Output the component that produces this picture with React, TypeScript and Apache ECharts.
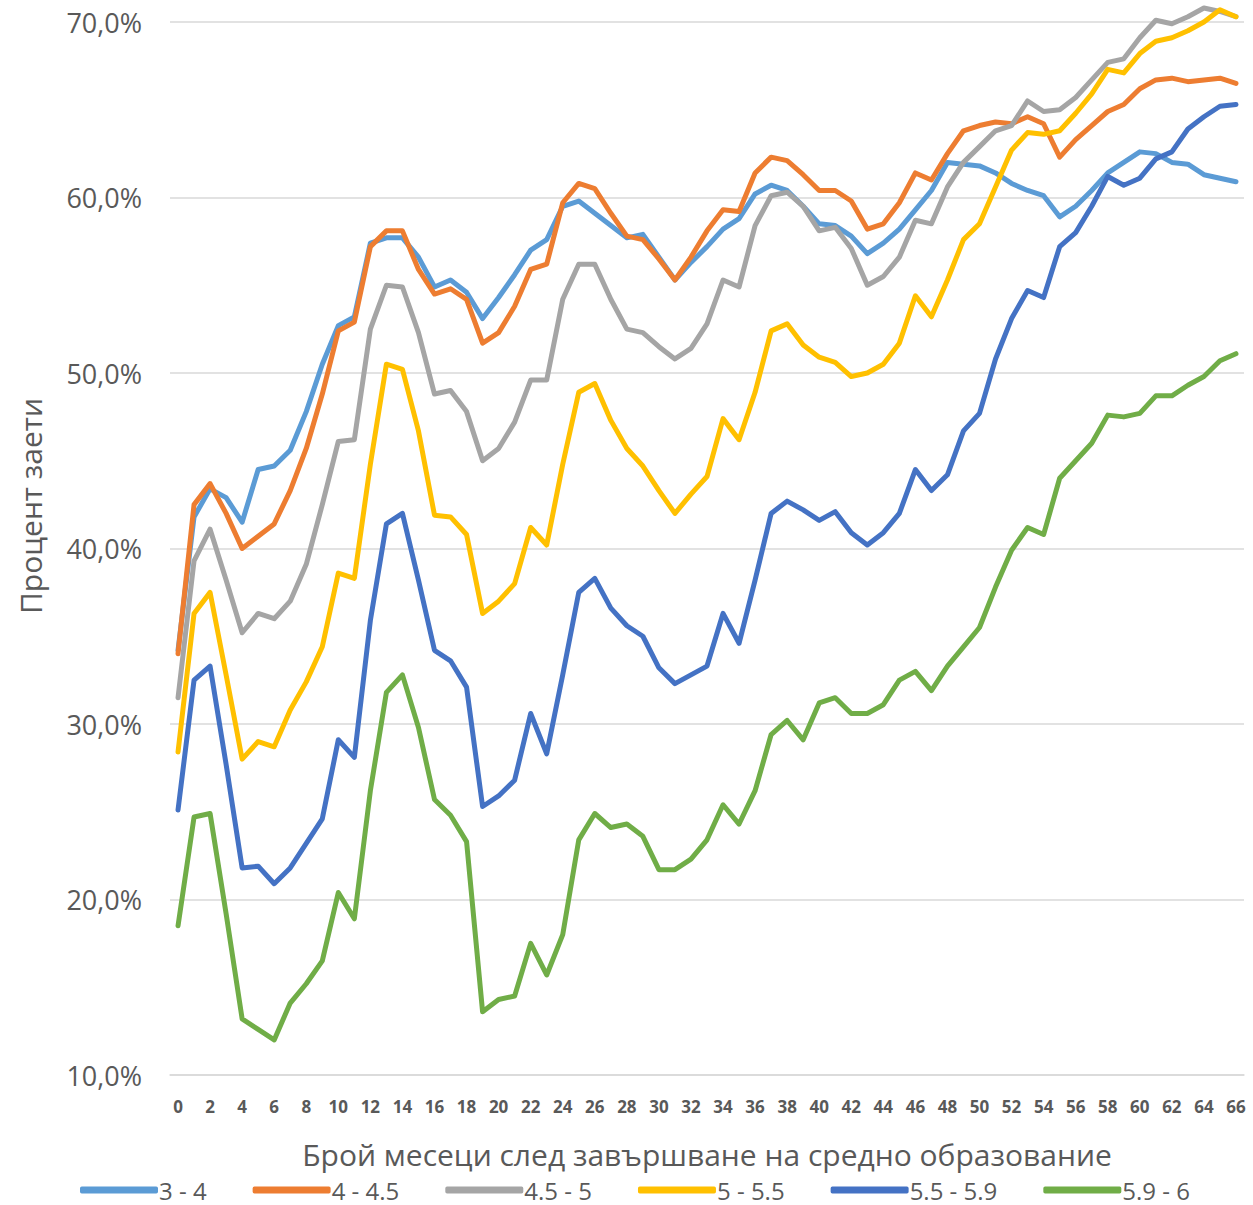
import React, { useEffect, useRef } from "react";
import * as echarts from "echarts";

const months: string[] = Array.from({ length: 67 }, (_, i) => String(i));

const seriesNames = ["3 - 4", "4 - 4.5", "4.5 - 5", "5 - 5.5", "5.5 - 5.9", "5.9 - 6"];
const seriesColors = ["#5B9BD5", "#ED7D31", "#A5A5A5", "#FFC000", "#4472C4", "#70AD47"];

const s34 = [
  34.2, 41.8, 43.4, 42.9, 41.5, 44.5, 44.7, 45.6, 47.8, 50.5, 52.7, 53.2, 57.4, 57.7, 57.7, 56.6, 54.9, 55.3, 54.6, 53.1,
  54.3, 55.6, 57.0, 57.6, 59.5, 59.8, 59.1, 58.4, 57.7, 57.9, 56.6, 55.3, 56.3, 57.2, 58.2, 58.8, 60.2, 60.7, 60.4, 59.5,
  58.5, 58.4, 57.8, 56.8, 57.4, 58.2, 59.3, 60.4, 62.0, 61.9, 61.8, 61.4, 60.8, 60.4, 60.1, 58.9, 59.5, 60.4, 61.4, 62.0,
  62.6, 62.5, 62.0, 61.9, 61.3, 61.1, 60.9,
];
const s445 = [
  34.0, 42.5, 43.7, 42.0, 40.0, 40.7, 41.4, 43.3, 45.7, 48.8, 52.4, 52.9, 57.2, 58.1, 58.1, 55.9, 54.5, 54.8, 54.2, 51.7,
  52.3, 53.8, 55.9, 56.2, 59.7, 60.8, 60.5, 59.1, 57.8, 57.6, 56.5, 55.3, 56.6, 58.1, 59.3, 59.2, 61.4, 62.3, 62.1, 61.3,
  60.4, 60.4, 59.8, 58.2, 58.5, 59.7, 61.4, 61.0, 62.5, 63.8, 64.1, 64.3, 64.2, 64.6, 64.2, 62.3, 63.3, 64.1, 64.9, 65.3,
  66.2, 66.7, 66.8, 66.6, 66.7, 66.8, 66.5,
];
const s455 = [
  31.5, 39.3, 41.1, 38.2, 35.2, 36.3, 36.0, 37.0, 39.1, 42.5, 46.1, 46.2, 52.5, 55.0, 54.9, 52.3, 48.8, 49.0, 47.8, 45.0,
  45.7, 47.2, 49.6, 49.6, 54.2, 56.2, 56.2, 54.2, 52.5, 52.3, 51.5, 50.8, 51.4, 52.8, 55.3, 54.9, 58.4, 60.1, 60.3, 59.5,
  58.1, 58.3, 57.1, 55.0, 55.5, 56.6, 58.7, 58.5, 60.6, 62.0, 62.9, 63.8, 64.1, 65.5, 64.9, 65.0, 65.7, 66.7, 67.7, 67.9,
  69.1, 70.1, 69.9, 70.3, 70.8, 70.6, 70.3,
];
const s555 = [
  28.4, 36.3, 37.5, 32.8, 28.0, 29.0, 28.7, 30.8, 32.4, 34.4, 38.6, 38.3, 44.8, 50.5, 50.2, 46.7, 41.9, 41.8, 40.8, 36.3,
  37.0, 38.0, 41.2, 40.2, 44.8, 48.9, 49.4, 47.3, 45.7, 44.7, 43.3, 42.0, 43.1, 44.1, 47.4, 46.2, 48.9, 52.4, 52.8, 51.6,
  50.9, 50.6, 49.8, 50.0, 50.5, 51.7, 54.4, 53.2, 55.3, 57.6, 58.5, 60.6, 62.7, 63.7, 63.6, 63.8, 64.8, 65.9, 67.3, 67.1,
  68.2, 68.9, 69.1, 69.5, 70.0, 70.7, 70.3,
];
const s559 = [
  25.1, 32.5, 33.3, 27.7, 21.8, 21.9, 20.9, 21.8, 23.2, 24.6, 29.1, 28.1, 35.9, 41.4, 42.0, 38.2, 34.2, 33.6, 32.1, 25.3,
  25.9, 26.8, 30.6, 28.3, 32.8, 37.5, 38.3, 36.6, 35.6, 35.0, 33.2, 32.3, 32.8, 33.3, 36.3, 34.6, 38.2, 42.0, 42.7, 42.2,
  41.6, 42.1, 40.9, 40.2, 40.9, 42.0, 44.5, 43.3, 44.2, 46.7, 47.7, 50.8, 53.1, 54.7, 54.3, 57.2, 58.0, 59.5, 61.2, 60.7,
  61.1, 62.2, 62.6, 63.9, 64.6, 65.2, 65.3,
];
const s596 = [
  18.5, 24.7, 24.9, 19.2, 13.2, 12.6, 12.0, 14.1, 15.2, 16.5, 20.4, 18.9, 26.2, 31.8, 32.8, 29.8, 25.7, 24.8, 23.3, 13.6,
  14.3, 14.5, 17.5, 15.7, 18.0, 23.4, 24.9, 24.1, 24.3, 23.6, 21.7, 21.7, 22.3, 23.4, 25.4, 24.3, 26.2, 29.4, 30.2, 29.1,
  31.2, 31.5, 30.6, 30.6, 31.1, 32.5, 33.0, 31.9, 33.3, 34.4, 35.5, 37.8, 39.9, 41.2, 40.8, 44.0, 45.0, 46.0, 47.6, 47.5,
  47.7, 48.7, 48.7, 49.3, 49.8, 50.7, 51.1,
];
const allSeries = [s34, s445, s455, s555, s559, s596];

const xTitle = "Брой месеци след завършване на средно образование";
const yTitle = "Процент заети";

const FONT = "'Open Sans', 'DejaVu Sans', sans-serif";
const TXT = "#595959";

export default function App() {
  const ref = useRef<HTMLDivElement>(null);
  useEffect(() => {
    if (!ref.current) return;
    const chart = echarts.init(ref.current, undefined, { renderer: "svg" });
    chart.setOption({
      animation: false,
      backgroundColor: "#ffffff",
      textStyle: { fontFamily: FONT },
      grid: { left: 170, right: 9, top: 22, height: 1053, containLabel: false },
      xAxis: {
        type: "category",
        data: months,
        boundaryGap: true,
        axisTick: { show: false },
        axisLine: { show: true, lineStyle: { color: "#d9d9d9", width: 1.5 } },
        axisLabel: {
          interval: 1,
          margin: 23,
          color: TXT,
          fontSize: 17,
          fontWeight: "bold",
          fontFamily: FONT,
        },
        name: xTitle,
        nameLocation: "middle",
        nameGap: 64,
        nameTextStyle: { color: TXT, fontSize: 30, fontFamily: FONT },
      },
      yAxis: {
        type: "value",
        min: 10,
        max: 70,
        interval: 10,
        axisLine: { show: false },
        axisTick: { show: false },
        splitLine: { lineStyle: { color: "#d9d9d9", width: 1.5 } },
        axisLabel: {
          margin: 28,
          color: TXT,
          fontSize: 27,
          fontFamily: FONT,
          formatter: (v: number) => `${v},0%`,
        },
      },
      legend: {
        data: seriesNames,
        left: 80,
        top: 1178,
        padding: 0,
        icon: "roundRect",
        itemWidth: 78,
        itemHeight: 7,
        itemGap: 46,
        textStyle: { color: TXT, fontSize: 24, lineHeight: 24, fontFamily: FONT, padding: [0, 0, 0, -4] },
      },
      graphic: [
        {
          type: "text",
          x: 30,
          y: 506,
          rotation: Math.PI / 2,
          style: {
            text: yTitle,
            fill: TXT,
            font: `30px ${FONT}`,
            textAlign: "center",
            textVerticalAlign: "middle",
          },
        },
      ],
      series: allSeries.map((d, k) => ({
        name: seriesNames[k],
        type: "line",
        data: d,
        symbol: "none",
        clip: false,
        color: seriesColors[k],
        lineStyle: { width: 5, color: seriesColors[k], join: "round", cap: "round" },
      })),
    });
    return () => chart.dispose();
  }, []);
  return (
    <div
      ref={ref}
      style={{ position: "absolute", left: 0, top: 0, width: 1253, height: 1205 }}
    />
  );
}
